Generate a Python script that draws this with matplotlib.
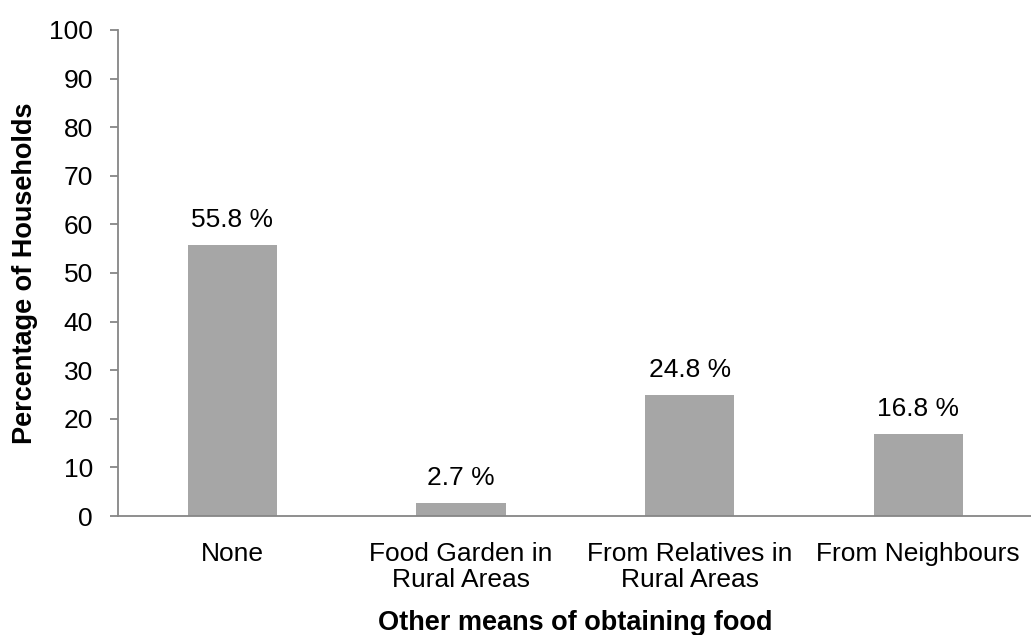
import matplotlib
matplotlib.use('Agg')
import matplotlib.pyplot as plt

plt.rcParams['font.family'] = ['Liberation Sans', 'DejaVu Sans']

categories = ['None', 'Food Garden in\nRural Areas', 'From Relatives in\nRural Areas', 'From Neighbours']
values = [55.8, 2.7, 24.8, 16.8]
labels = ['55.8 %', '2.7 %', '24.8 %', '16.8 %']

fs = 19

fig = plt.figure(figsize=(10.31, 6.35), dpi=100)
ax = fig.add_axes([0.1145, 0.1874, 0.887, 0.7654])

x = range(len(categories))
ax.bar(x, values, width=0.39, color='#A6A6A6')
for i, v in enumerate(values):
    ax.text(i, v + 3.7, labels[i], ha='center', va='baseline', fontsize=fs)

ax.set_xlim(-0.5, len(categories) - 0.5)
ax.set_ylim(0, 100)
ax.set_yticks(range(0, 101, 10))
ax.set_xticks(list(x))
ax.set_xticklabels(categories, fontsize=fs, linespacing=1.08)
ax.tick_params(axis='y', labelsize=fs, length=6, color='#868686', width=1.3, pad=12)
ax.tick_params(axis='x', length=0, pad=19)

for s in ['top', 'right']:
    ax.spines[s].set_visible(False)
for s in ['left', 'bottom']:
    ax.spines[s].set_color('#868686')
    ax.spines[s].set_linewidth(1.3)

ax.set_xlabel('Other means of obtaining food', fontsize=19.5, fontweight='bold', labelpad=13)
ax.set_ylabel('Percentage of Households', fontsize=19.5, fontweight='bold', labelpad=8)

fig.savefig('out.png', dpi=100)
